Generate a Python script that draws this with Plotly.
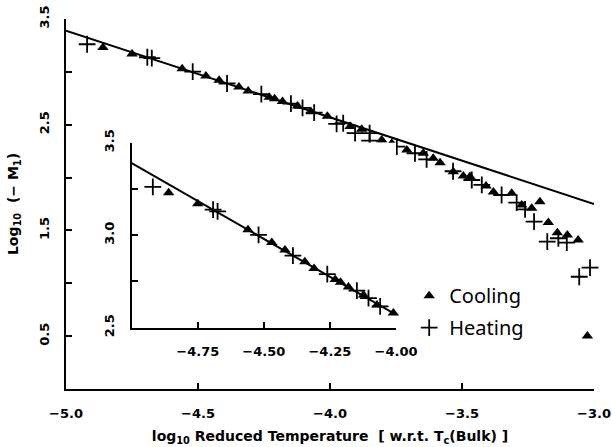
import plotly.graph_objects as go

# ---- data ----
cool_x = [-4.86, -4.75, -4.56, -4.47, -4.42, -4.345, -4.31, -4.23, -4.21, -4.18,
          -4.123, -4.072, -4.01, -3.924, -3.880, -3.804, -3.766, -3.709, -3.647,
          -3.609, -3.583, -3.533, -3.495, -3.470, -3.409, -3.381, -3.312, -3.274,
          -3.236, -3.205, -3.173, -3.139, -3.101, -3.060, -3.025]
cool_y = [3.23, 3.17, 3.03, 2.96, 2.92, 2.857, 2.82, 2.76, 2.745, 2.72,
          2.677, 2.623, 2.58, 2.482, 2.457, 2.356, 2.324, 2.261, 2.230,
          2.183, 2.141, 2.056, 2.015, 2.009, 1.92, 1.864, 1.851, 1.741,
          1.710, 1.772, 1.575, 1.479, 1.457, 1.410, 0.501]

heat_x = [-4.92, -4.692, -4.675, -4.52, -4.39, -4.26, -4.148, -4.104, -4.06,
          -3.975, -3.95, -3.905, -3.85, -3.85, -3.747, -3.678, -3.634, -3.534,
          -3.463, -3.425, -3.350, -3.293, -3.261, -3.227, -3.177, -3.135, -3.103,
          -3.056, -3.015]
heat_y = [3.261, 3.138, 3.129, 3.002, 2.89, 2.79, 2.70, 2.66, 2.615,
          2.507, 2.514, 2.42, 2.42, 2.35, 2.292, 2.23, 2.173, 2.06,
          1.977, 1.930, 1.835, 1.763, 1.700, 1.583, 1.394, 1.426, 1.384,
          1.062, 1.148]

FIT_SLOPE = -0.82
FIT_INTERCEPT = -0.71

main_xrange = [-5.0, -3.0]
main_yrange = [0.0, 3.5]
inset_xrange = [-5.0, -4.0]
inset_yrange = [2.5, 3.5]

main_xticks = [-5.0, -4.5, -4.0, -3.5, -3.0]
main_xticktext = ["\u22125.0", "\u22124.5", "\u22124.0", "\u22123.5", "\u22123.0"]
main_yticks = [0.5, 1.0, 1.5, 2.0, 2.5, 3.0, 3.5]
main_yticktext = ["0.5", "", "1.5", "", "2.5", "", "3.5"]
inset_xticks = [-4.75, -4.50, -4.25, -4.00]
inset_xticktext = ["\u22124.75", "\u22124.50", "\u22124.25", "\u22124.00"]
inset_yticks = [2.5, 2.75, 3.0, 3.25, 3.5]
inset_yticktext = ["2.5", "", "3.0", "", "3.5"]

FONT = "DejaVu Sans"

def fit(xs):
    return [FIT_INTERCEPT + FIT_SLOPE * x for x in xs]

fig = go.Figure()

tri = dict(symbol="triangle-up", size=10, color="black")
plus = dict(symbol="cross-thin", size=12, color="black", line=dict(width=1.8, color="black"))

# main panel
fig.add_trace(go.Scatter(x=main_xrange, y=fit(main_xrange), mode="lines",
                         line=dict(color="black", width=2), showlegend=False,
                         xaxis="x", yaxis="y"))
fig.add_trace(go.Scatter(x=cool_x, y=cool_y, mode="markers", marker=tri,
                         name="Cooling", legendgroup="c",
                         xaxis="x", yaxis="y", cliponaxis=False))
fig.add_trace(go.Scatter(x=heat_x, y=heat_y, mode="markers", marker=plus,
                         name="Heating", legendgroup="h",
                         xaxis="x", yaxis="y", cliponaxis=False))

# inset panel (same data, restricted to inset x range)
icx = [x for x in cool_x if inset_xrange[0] <= x <= inset_xrange[1]]
icy = [y for x, y in zip(cool_x, cool_y) if inset_xrange[0] <= x <= inset_xrange[1]]
ihx = [x for x in heat_x if inset_xrange[0] <= x <= inset_xrange[1]]
ihy = [y for x, y in zip(heat_x, heat_y) if inset_xrange[0] <= x <= inset_xrange[1]]

fig.add_trace(go.Scatter(x=inset_xrange, y=fit(inset_xrange), mode="lines",
                         line=dict(color="black", width=2), showlegend=False,
                         xaxis="x2", yaxis="y2"))
fig.add_trace(go.Scatter(x=icx, y=icy, mode="markers", marker=tri, showlegend=False,
                         xaxis="x2", yaxis="y2", cliponaxis=False))
fig.add_trace(go.Scatter(x=ihx, y=ihy, mode="markers", marker=plus, showlegend=False,
                         xaxis="x2", yaxis="y2", cliponaxis=False))

tickfont = dict(family=FONT, size=13, color="black", weight="bold")
axcommon = dict(showgrid=False, zeroline=False, showline=True, linecolor="black",
                linewidth=2, ticks="inside", ticklen=6, tickwidth=2, tickcolor="black",
                tickfont=tickfont, automargin=False, ticklabeloverflow="allow")

fig.update_layout(
    width=612, height=447,
    margin=dict(l=66, r=18, t=19, b=58),
    plot_bgcolor="white", paper_bgcolor="white",
    font=dict(family=FONT, color="black"),
    xaxis=dict(range=main_xrange, tickvals=main_xticks, ticktext=main_xticktext,
               domain=[0, 1], anchor="y", ticklabelstandoff=11,
               title=dict(text="log<sub>10</sub> Reduced Temperature  [ w.r.t. T<sub>c</sub>(Bulk) ]",
                          font=dict(family=FONT, size=14, weight="bold"), standoff=12),
               **axcommon),
    yaxis=dict(range=main_yrange, tickvals=main_yticks, ticktext=main_yticktext,
               domain=[0, 1], anchor="x", tickangle=-90, ticklabelstandoff=10,
               title=dict(text="Log<sub>10</sub>  (\u2212 M<sub>1</sub>)",
                          font=dict(family=FONT, size=14, weight="bold"), standoff=15),
               **axcommon),
    xaxis2=dict(range=inset_xrange, tickvals=inset_xticks, ticktext=inset_xticktext,
                domain=[0.1244, 0.625], anchor="y2", ticklabelstandoff=11, **axcommon),
    yaxis2=dict(range=inset_yrange, tickvals=inset_yticks, ticktext=inset_yticktext,
                domain=[0.1657, 0.6657], anchor="x2", tickangle=-90, ticklabelstandoff=10,
                **axcommon),
    legend=dict(x=0.65, y=0.305, xanchor="left", yanchor="top",
                font=dict(family="Noto Sans", size=20, color="black"),
                bgcolor="rgba(0,0,0,0)", tracegroupgap=3),
)

# remove the browser's default 8px page margin so the figure fills the window exactly
fig.write_html("out.html", config={"displayModeBar": False},
               post_script="document.body.style.margin='0px';")
